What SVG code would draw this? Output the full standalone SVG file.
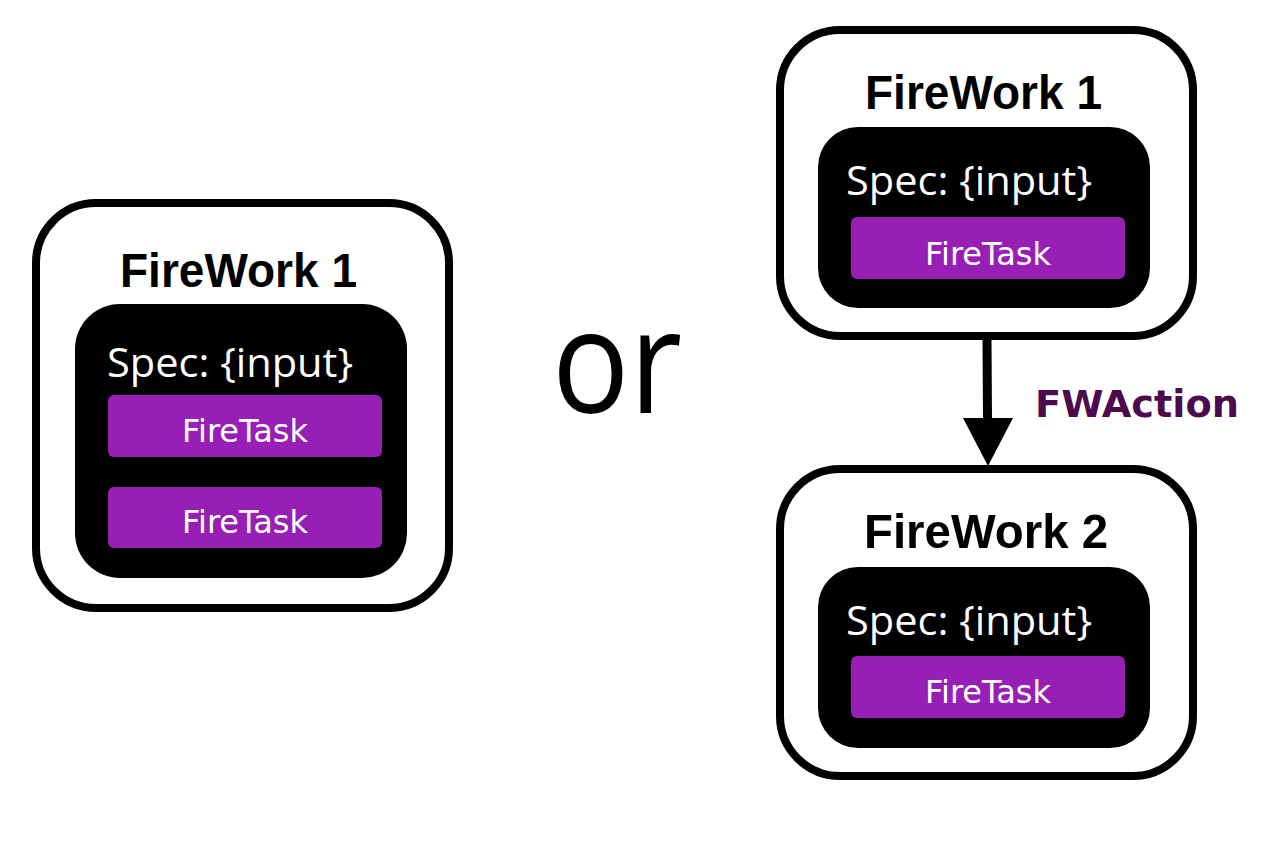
<svg xmlns="http://www.w3.org/2000/svg" width="1266" height="846" viewBox="0 0 1266 846">
<style>
.outer{fill:#fff;stroke:#000;stroke-width:8}
.inner{fill:#000}
.task{fill:#971fb5}
.title{font-family:"Liberation Sans","DejaVu Sans",sans-serif;font-weight:bold;font-size:49px;fill:#000;text-anchor:middle}
.spec{font-family:"Open Sans","Liberation Sans",sans-serif;font-size:40px;fill:#fff}
.tt{font-family:"DejaVu Sans","Liberation Sans",sans-serif;font-size:32px;fill:#fff;text-anchor:middle}
</style>
<rect width="1266" height="846" fill="#fff"/>
<g id="fw1-left">
<rect class="outer" x="36" y="203" width="413" height="405" rx="60"/>
<rect class="inner" x="75" y="304" width="332" height="274" rx="45"/>
<text class="title" x="238.5" y="287" textLength="237" lengthAdjust="spacingAndGlyphs">FireWork 1</text>
<text class="spec" x="107" y="377" textLength="246" lengthAdjust="spacingAndGlyphs">Spec: {input}</text>
<rect class="task" x="108" y="395" width="274" height="62" rx="6"/>
<text class="tt" x="245" y="442" textLength="126" lengthAdjust="spacingAndGlyphs">FireTask</text>
<rect class="task" x="108" y="487" width="274" height="61" rx="6"/>
<text class="tt" x="245" y="533" textLength="126" lengthAdjust="spacingAndGlyphs">FireTask</text>
</g>
<g id="or">
<text x="552" y="413" font-family="'Open Sans','Liberation Sans',sans-serif" font-size="145" fill="#000" textLength="130" lengthAdjust="spacingAndGlyphs">or</text>
</g>
<g id="fw1-right">
<rect class="outer" x="780" y="30" width="413" height="306" rx="60"/>
<rect class="inner" x="818" y="127" width="332" height="181" rx="40"/>
<text class="title" x="983.5" y="109" textLength="237" lengthAdjust="spacingAndGlyphs">FireWork 1</text>
<text class="spec" x="846" y="195" textLength="246" lengthAdjust="spacingAndGlyphs">Spec: {input}</text>
<rect class="task" x="851" y="217" width="274" height="62" rx="6"/>
<text class="tt" x="988" y="265" textLength="126" lengthAdjust="spacingAndGlyphs">FireTask</text>
</g>
<g id="fw2">
<rect class="outer" x="780" y="469" width="413" height="307" rx="60"/>
<rect class="inner" x="818" y="567" width="332" height="181" rx="40"/>
<text class="title" x="986" y="548" textLength="244" lengthAdjust="spacingAndGlyphs">FireWork 2</text>
<text class="spec" x="846" y="635" textLength="246" lengthAdjust="spacingAndGlyphs">Spec: {input}</text>
<rect class="task" x="851" y="656" width="274" height="62" rx="6"/>
<text class="tt" x="988" y="703" textLength="126" lengthAdjust="spacingAndGlyphs">FireTask</text>
</g>
<g id="connectors">
<line x1="987" y1="338" x2="987.5" y2="420" stroke="#000" stroke-width="9"/>
<polygon points="963,418 1013,418 988,466" fill="#000"/>
<text x="1035" y="417" font-family="'DejaVu Sans','Liberation Sans',sans-serif" font-weight="bold" font-size="37" fill="#4e0a4e" textLength="204" lengthAdjust="spacingAndGlyphs">FWAction</text>
</g>
</svg>
